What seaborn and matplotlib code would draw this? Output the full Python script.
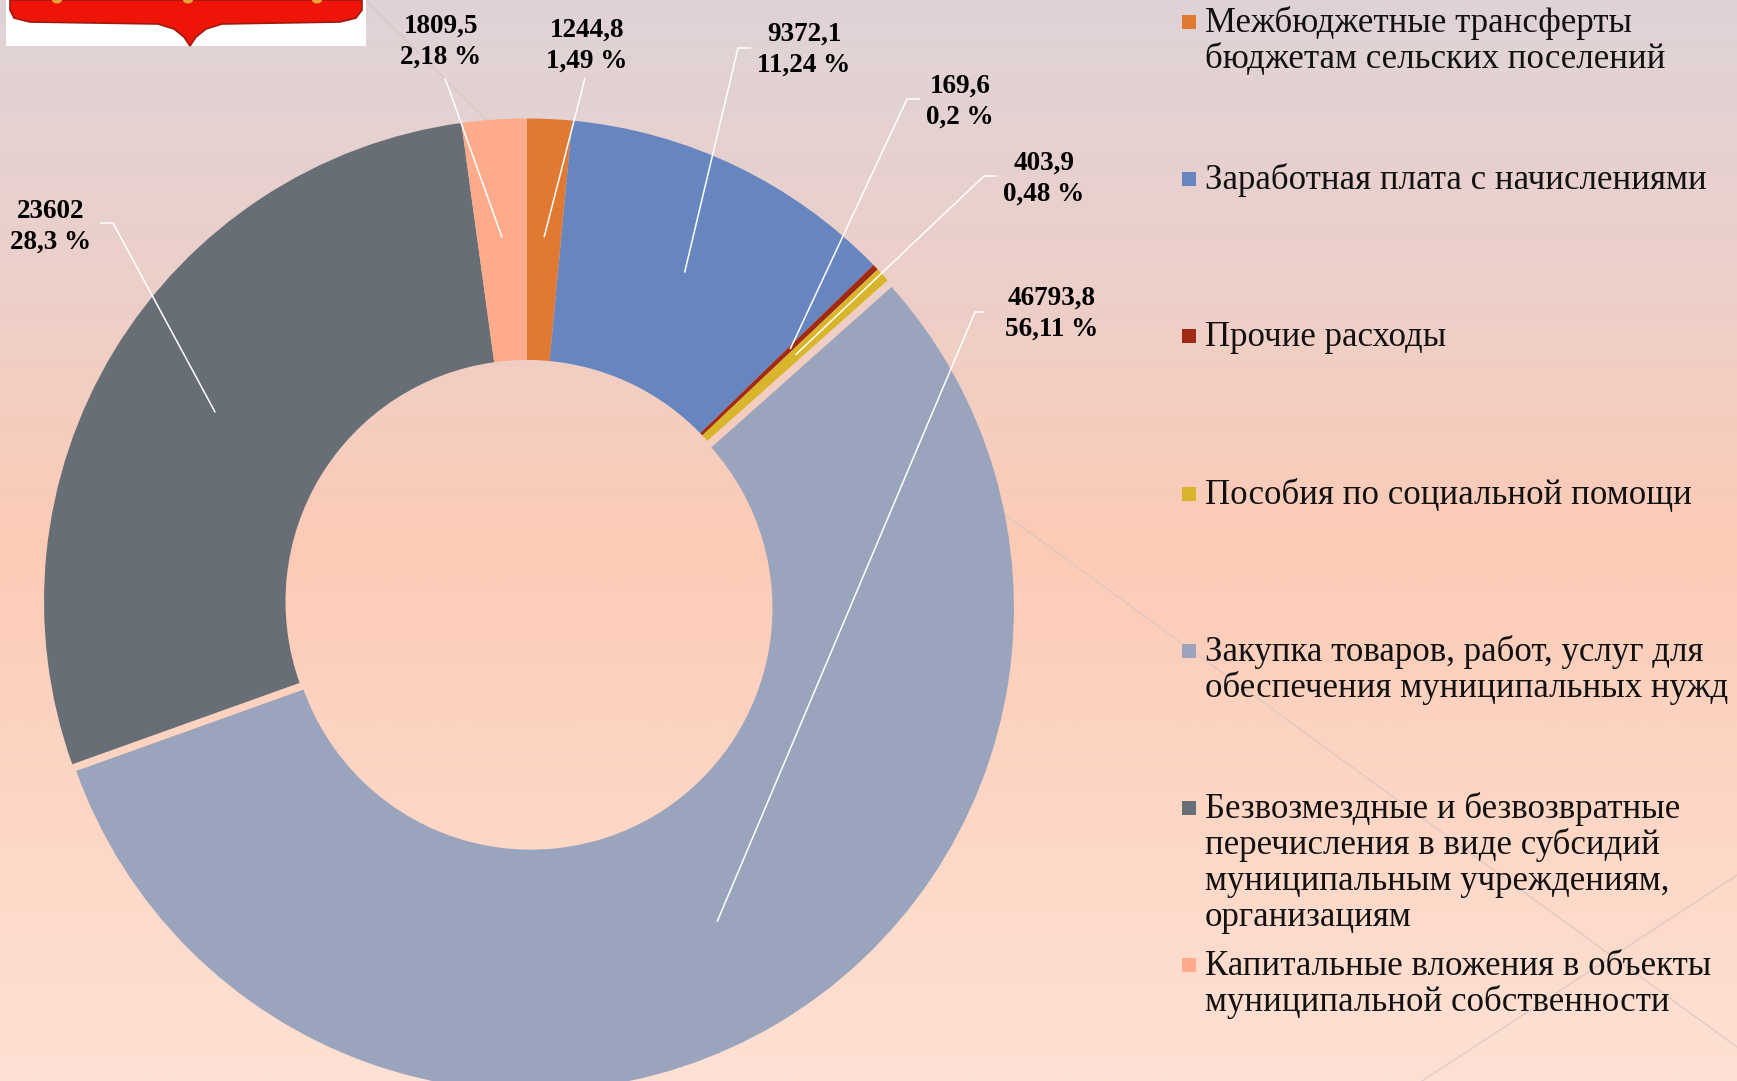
import numpy as np
import matplotlib
matplotlib.use("Agg")
import matplotlib.pyplot as plt
import seaborn as sns
from matplotlib.patches import Polygon, Rectangle, Ellipse
from matplotlib.colors import LinearSegmentedColormap

# ---------------- data ----------------
categories = [
    "Межбюджетные трансферты\nбюджетам сельских поселений",
    "Заработная плата с начислениями",
    "Прочие расходы",
    "Пособия по социальной помощи",
    "Закупка товаров, работ, услуг для\nобеспечения муниципальных нужд",
    "Безвозмездные и безвозвратные\nперечисления в виде субсидий\nмуниципальным учреждениям,\nорганизациям",
    "Капитальные вложения в объекты\nмуниципальной собственности",
]
values = [1244.8, 9372.1, 169.6, 403.9, 46793.8, 23602, 1809.5]
value_labels = ["1244,8", "9372,1", "169,6", "403,9", "46793,8", "23602", "1809,5"]
percent_labels = ["1,49 %", "11,24 %", "0,2 %", "0,48 %", "56,11 %", "28,3 %", "2,18 %"]
colors = ["#E07A33", "#6786C0", "#A02A14", "#D8B52A", "#9AA5BD", "#686E76", "#FDAB8A"]
explode = [0, 0, 0, 0, 0.016, 0, 0]

# ---------------- layout (pixels, origin top-left) ----------------
W, H, DPI = 1737, 1081, 100
label_pos = [(587, 28), (804, 32), (960, 84), (1044, 161), (1052, 296), (51, 209), (441, 24)]
leader_start = [
    [(585, 78)],
    [(751, 48), (738, 48)],
    [(920, 99), (907, 99)],
    [(997, 176), (984, 176)],
    [(984, 312), (975, 312)],
    [(100, 223), (113, 223)],
    [(445, 78)],
]

sns.set_theme(style="white")
plt.rcParams['font.family'] = ['Liberation Serif', 'DejaVu Serif']

fig = plt.figure(figsize=(W / DPI, H / DPI), dpi=DPI)

# background gradient
bg = fig.add_axes([0, 0, 1, 1], zorder=0)
stops = [(0.0, '#DFD3D7'), (0.28, '#EDCFC8'), (0.5, '#FCCBB6'),
         (0.75, '#FDD6C5'), (1.0, '#FEE1D4')]
cmap = LinearSegmentedColormap.from_list('bg', stops)
grad = np.linspace(0, 1, 512).reshape(-1, 1)
bg.imshow(grad, aspect='auto', cmap=cmap, extent=[0, W, H, 0], interpolation='bilinear')
bg.set_xlim(0, W)
bg.set_ylim(H, 0)
bg.set_axis_off()
# faint decorative diagonals
for (x0, y0), (x1, y1) in [((365, 0), (720, 350)), ((1000, 511), (1737, 1047)),
                           ((1737, 875), (1422, 1081))]:
    bg.plot([x0, x1], [y0, y1], color='#D8C6C4', lw=1.0, alpha=0.8)

# ---------------- donut ----------------
R = 483.0
cx, cy = 527.0, 601.5
lim = 1.1
half = R * lim
ax = fig.add_axes([(cx - half) / W, (H - cy - half) / H, 2 * half / W, 2 * half / H], zorder=1)
wedges, _ = ax.pie(values, colors=colors, startangle=90, counterclock=False,
                   explode=explode, radius=1.0,
                   wedgeprops=dict(width=0.5, linewidth=0))
ax.set_aspect('auto')
ax.set_xlim(-lim, lim)
ax.set_ylim(-lim, lim)
ax.set_axis_off()
ax.patch.set_alpha(0)

# ---------------- overlay (labels, leaders, legend, logo) ----------------
ov = fig.add_axes([0, 0, 1, 1], zorder=3)
ov.set_xlim(0, W)
ov.set_ylim(H, 0)
ov.set_axis_off()
ov.patch.set_alpha(0)

r_lead = 0.755
for i, w in enumerate(wedges):
    th = np.deg2rad((w.theta1 + w.theta2) / 2)
    ex, ey = w.center[0] + r_lead * np.cos(th), w.center[1] + r_lead * np.sin(th)
    px, py = ax.transData.transform((ex, ey))
    py = H - py
    pts = leader_start[i] + [(px, py)]
    ov.plot([p[0] for p in pts], [p[1] for p in pts], color='white', lw=1.1,
            solid_capstyle='butt')
    lx, ly = label_pos[i]
    ov.text(lx, ly + 9, value_labels[i], ha='center', va='baseline',
            fontsize=19.5, fontweight='bold', color='black')
    ov.text(lx, ly + 31 + 9, percent_labels[i], ha='center', va='baseline',
            fontsize=19.5, fontweight='bold', color='black')

# legend (drawn manually: marker aligned with first line)
for i, (cat, col) in enumerate(zip(categories, colors)):
    y0 = 22 + i * 157.2
    ov.add_patch(Rectangle((1182, y0 - 7), 14, 14, facecolor=col, edgecolor='none'))
    for j, line in enumerate(cat.split("\n")):
        ov.text(1205, y0 + 10 + j * 36, line, ha='left', va='baseline',
                fontsize=25.1, color='#111111')

# logo fragment (top-left)
ov.add_patch(Rectangle((6, 0), 360, 46, facecolor='white', edgecolor='none'))
shield = [(10, 0), (362, 0), (362, 10), (356, 18), (340, 22), (222, 24), (206, 29),
          (196, 37), (190, 46), (184, 37), (174, 29), (158, 24), (30, 22), (14, 18), (10, 10)]
ov.add_patch(Polygon(shield, closed=True, facecolor='#EE1508', edgecolor='#9E1A10', lw=1.2))
for xd in (57, 188, 317):
    ov.add_patch(Ellipse((xd, 0), 10, 7, facecolor='#E3A23A', edgecolor='none'))

fig.savefig("out.png", dpi=DPI)
